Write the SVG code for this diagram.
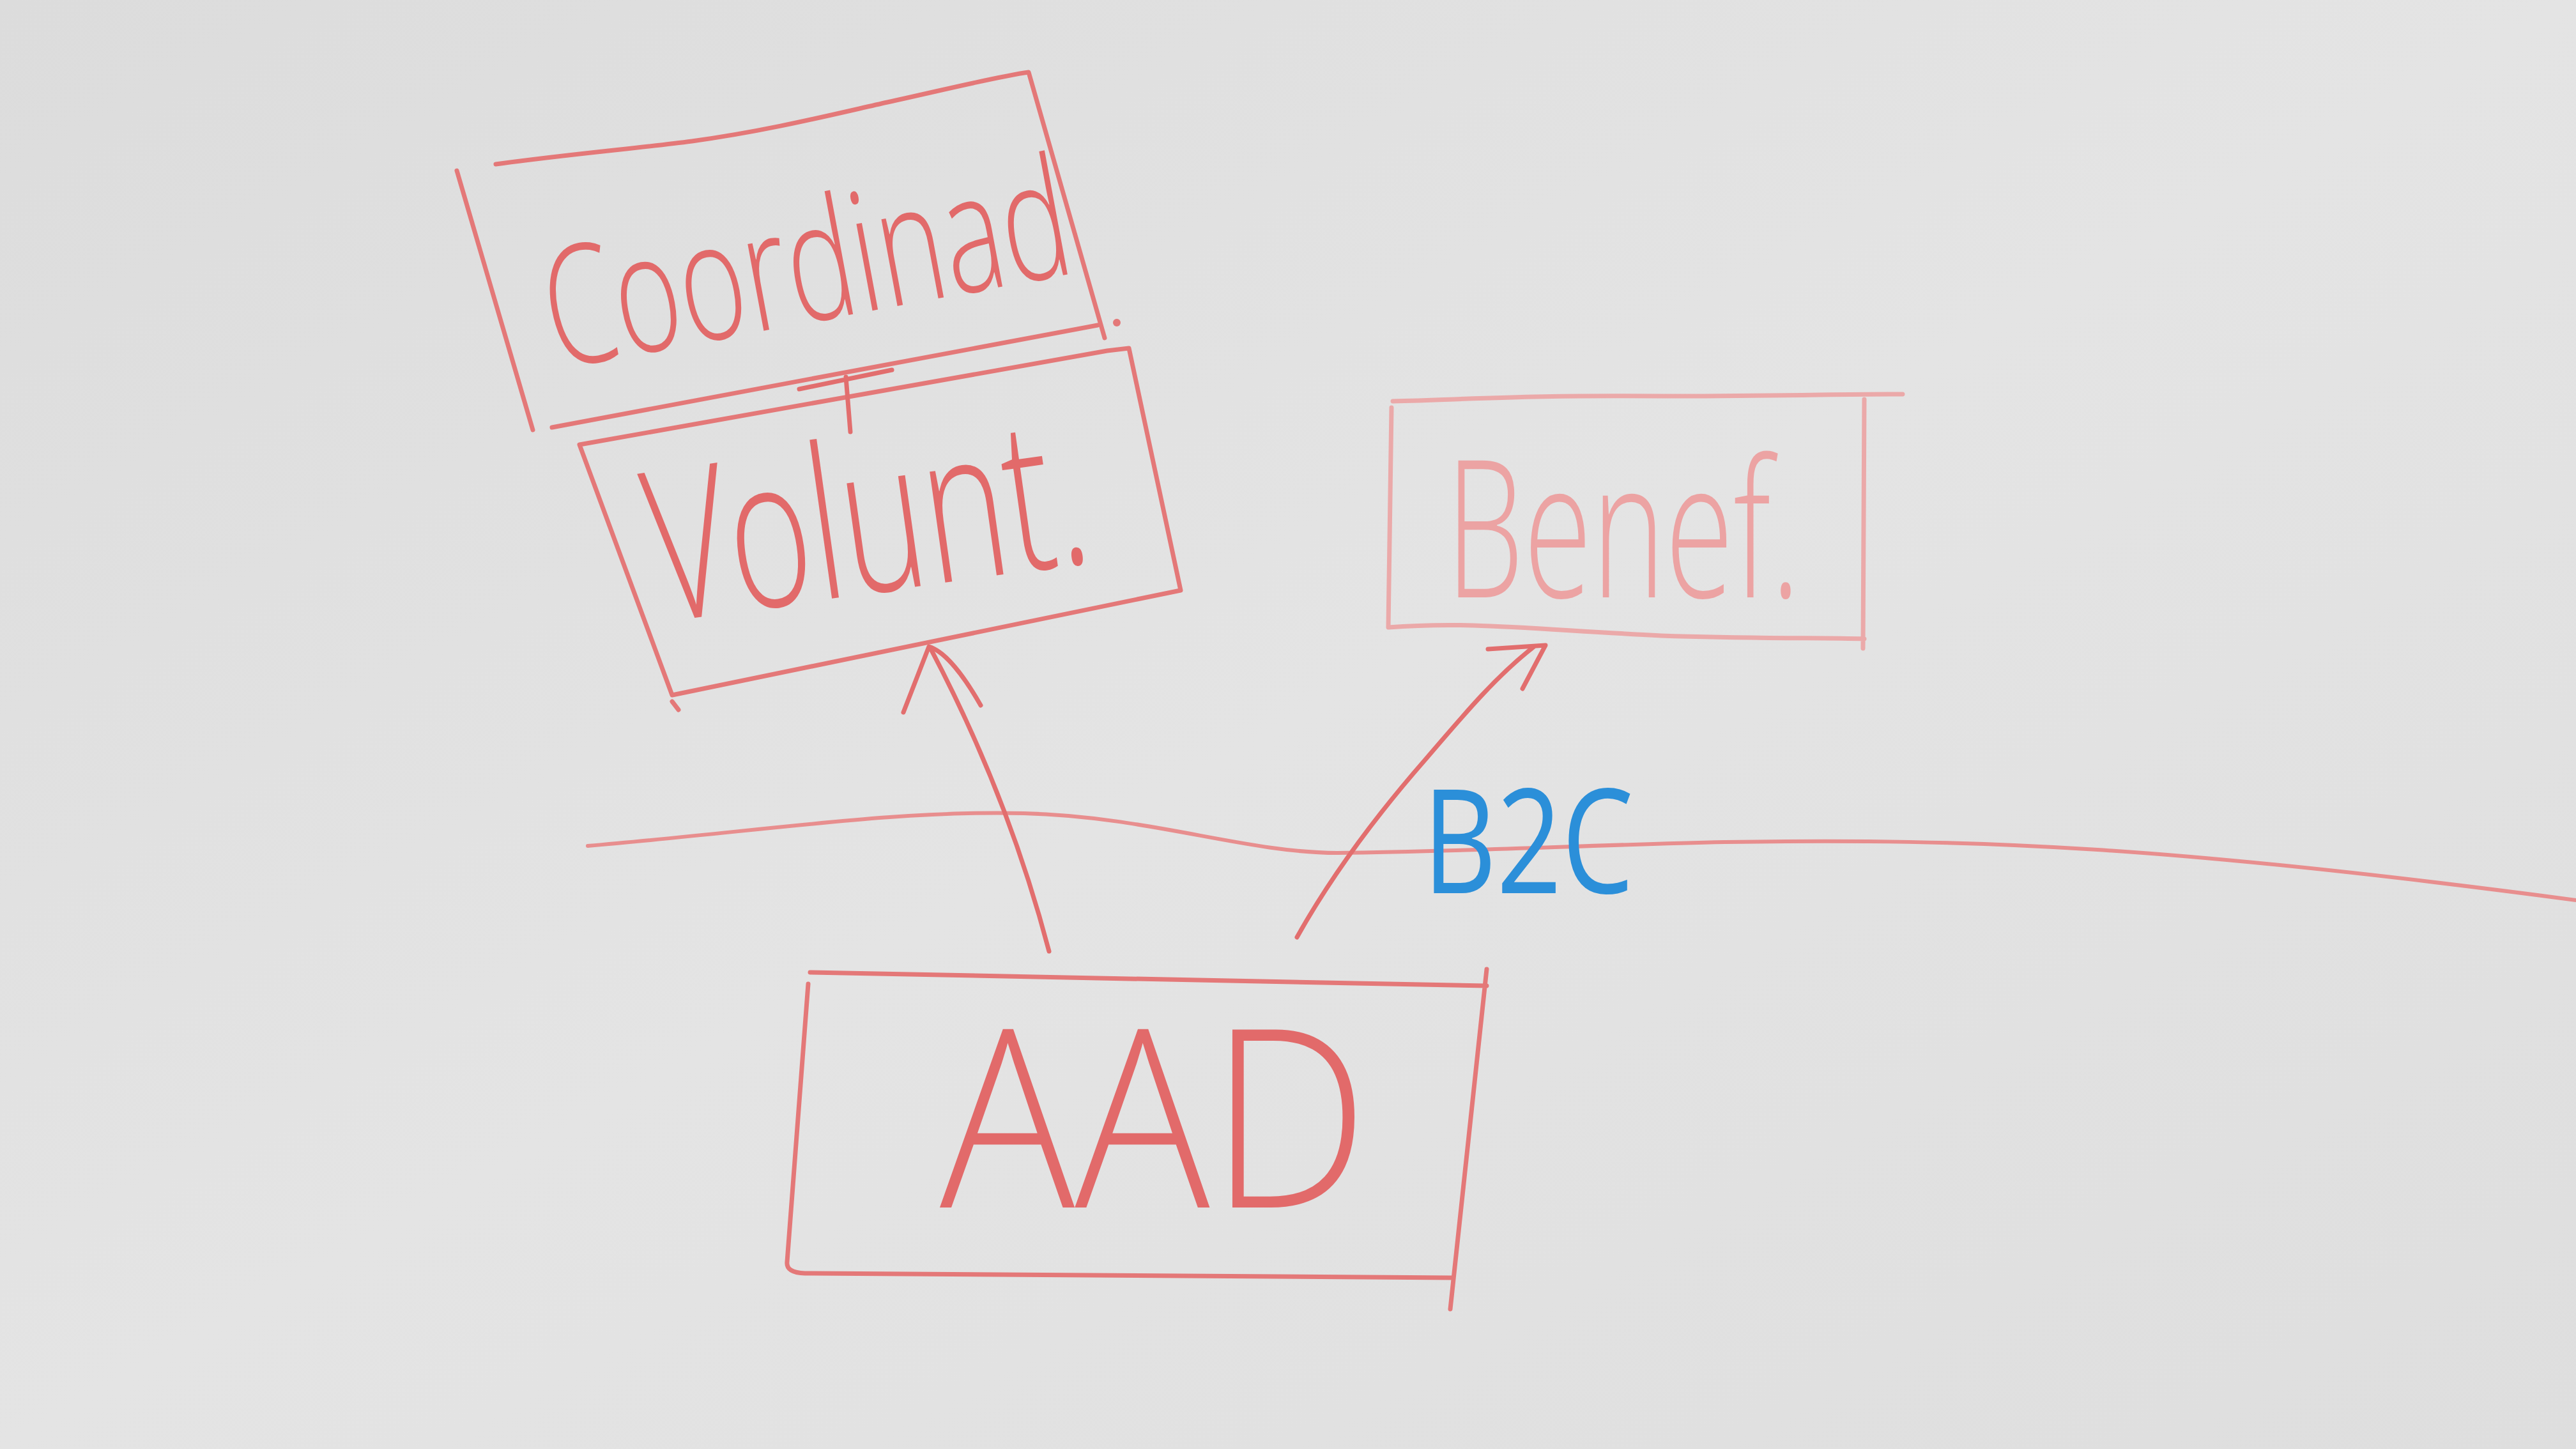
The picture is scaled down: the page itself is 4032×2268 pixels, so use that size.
<svg xmlns="http://www.w3.org/2000/svg" width="4032" height="2268" viewBox="0 0 4032 2268">
  <defs>
    <linearGradient id="bg" x1="0" y1="0" x2="1" y2="1">
      <stop offset="0" stop-color="#dcdcdc"/>
      <stop offset="0.5" stop-color="#e4e4e4"/>
      <stop offset="1" stop-color="#dedede"/>
    </linearGradient>
    <style>
      .box { fill: none; stroke: #e47878; stroke-width: 7; stroke-linecap: round; stroke-linejoin: round; }
      .pale { stroke: #eba9a9; }
      .ink { fill: none; stroke: #e26e6e; stroke-width: 7; stroke-linecap: round; stroke-linejoin: round; }
      .lbl { font-family: "Open Sans", "Lato", "Liberation Sans", sans-serif; font-weight: 300; fill: #e26a6a; }
      .b2c { font-family: "Open Sans", "Liberation Sans", sans-serif; font-weight: 400; fill: #2b8fd9; }
    </style>
  </defs>
  <rect width="4032" height="2268" fill="url(#bg)"/>

  <g id="divider">
    <path class="ink" style="stroke:#e88e8e;stroke-width:6" d="M920,1324 C1200,1300 1400,1268 1602,1273 C1800,1278 1950,1335 2093,1335 C2300,1333 2500,1322 2700,1318 C3100,1312 3400,1325 4032,1409"/>
  </g>

  <g id="node-coordinad">
    <path class="box" d="M715,267 L834,673 M776,257 C900,240 1000,232 1083,221 C1200,205 1300,180 1389,160 C1480,140 1560,120 1610,113 L1729,529 M864,669 L1718,509"/>
    <circle cx="1748" cy="505" r="6" fill="#e47878"/>
    <text class="lbl" x="0" y="0" font-size="260" textLength="830" lengthAdjust="spacingAndGlyphs" transform="translate(870,578) rotate(-10.5)">Coordinad</text>
  </g>

  <g id="node-volunt">
    <path class="box" d="M907,696 L1733,549 L1767,545 L1848,924 L1052,1088 L907,696 M1052,1098 L1062,1111"/>
    <text class="lbl" x="0" y="0" font-size="330" textLength="690" lengthAdjust="spacingAndGlyphs" transform="translate(1030,975) rotate(-8)">Volunt.</text>
  </g>

  <g id="node-benef">
    <path class="box pale" d="M2180,628 C2300,625 2400,618 2600,620 C2800,620 2900,616 2978,617 M2178,638 L2173,982 C2300,972 2400,985 2600,995 C2750,1000 2850,998 2918,1000 M2918,625 L2916,1015"/>
    <text class="lbl" x="2263" y="935" font-size="300" textLength="555" lengthAdjust="spacingAndGlyphs" style="fill:#eca3a3">Benef.</text>
  </g>

  <g id="node-aad">
    <path class="box" d="M1268,1522 L2327,1543 M2327,1517 L2270,2049 M1265,1540 L1232,1975 Q1230,1992 1260,1993 L2275,2000"/>
    <text class="lbl" x="1471" y="1890" font-size="390" textLength="671" lengthAdjust="spacingAndGlyphs">AAD</text>
  </g>

  <g id="connectors">
    <path class="ink" d="M1324,590 L1331,676 M1251,609 L1396,579"/>
    <path class="ink" d="M1642,1489 Q1578,1245 1456,1014"/>
    <path class="ink" d="M1414,1115 L1454,1012 C1480,1020 1510,1060 1535,1104"/>
    <path class="ink" d="M2030,1467 C2090,1360 2160,1270 2230,1190 C2290,1120 2340,1060 2400,1013"/>
    <path class="ink" d="M2329,1016 L2419,1010 L2383,1078"/>
    <text class="b2c" x="2227" y="1398" font-size="228" textLength="330" lengthAdjust="spacingAndGlyphs">B2C</text>
  </g>
</svg>
